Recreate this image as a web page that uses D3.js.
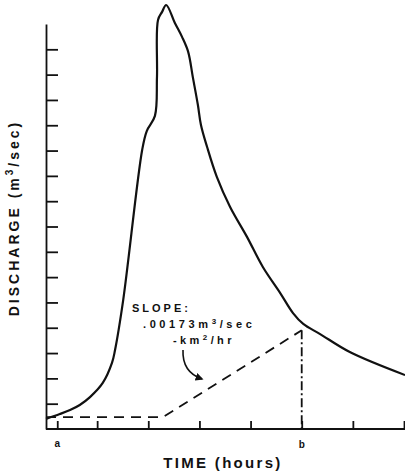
<!DOCTYPE html>
<html>
<head>
<meta charset="utf-8">
<script src="https://cdn.jsdelivr.net/npm/d3@7"></script>
<style>
	body { margin: 0; background: #fff; }
	svg { display: block; }
	text { font-family: "Liberation Sans", Arial, sans-serif; font-weight: bold; fill: #111; }
</style>
</head>
<body>
<svg id="chart" width="405" height="474"></svg>
<script>
// hydrograph (time in tick units, discharge in tick units)
const hydroT = [0, 0.27, 0.47, 0.66, 0.86, 1.11, 1.29, 1.35, 1.51, 1.88, 1.97, 2.13, 2.17, 2.19, 2.27, 2.35,
	2.52, 2.66, 2.78, 2.87, 2.97, 3.03, 3.15, 3.34, 3.60, 3.93, 4.24, 4.58, 4.83, 5.03, 5.36, 5.94, 7.02];
const hydroQ = [0.40, 0.59, 0.75, 0.95, 1.26, 1.82, 2.61, 3.12, 5.10, 11.02, 11.77, 12.37, 13.91, 16.16, 16.48, 16.75,
	16.04, 15.49, 14.90, 13.91, 12.80, 12.01, 11.14, 9.96, 8.77, 7.59, 6.40, 5.37, 4.58, 4.15, 3.75, 3.04, 2.13];

// baseflow separation line
const baseT = [0, 2.29, 5.0];
const baseQ = [0.47, 0.47, 3.9];

const xTicks = [1, 2, 3, 4, 5, 6, 7];
const yTicks = [1, 2, 3, 4, 5, 6, 7, 8, 9, 10, 11, 12, 13, 14, 15];
const pointA = 0.22, pointB = 5.0;

// text pieces: [plain, superscript, plain]
const yTitle = ["DISCHARGE (m", "3", "/sec)"];
const slopeLines = [["SLOPE:", "", ""], [".00173m", "3", "/sec"], ["-km", "2", "/hr"]];

const svg = d3.select("#chart");
const x = d3.scaleLinear().domain([0, 7]).range([46, 404]);
const y = d3.scaleLinear().domain([0, 16]).range([429, 24]);

function superText(sel, parts, size, sup) {
	sel.append("tspan").text(parts[0]);
	if (parts[1]) {
		sel.append("tspan").attr("dy", -size * 0.4).style("font-size", sup + "px").text(parts[1]);
		sel.append("tspan").attr("dy", size * 0.4).text(parts[2]);
	}
}

// axes
svg.append("g")
	.attr("transform", "translate(46,0)")
	.call(d3.axisRight(y).tickValues(yTicks).tickSize(12).tickSizeOuter(0).tickFormat(""))
	.call(g => g.selectAll("path, line").attr("stroke", "#111").attr("stroke-width", 1.8));

svg.append("g")
	.attr("transform", "translate(0,429)")
	.call(d3.axisTop(x).tickValues([pointA].concat(xTicks)).tickSize(8).tickSizeOuter(0).tickFormat(""))
	.call(g => g.select(".domain").attr("d", "M46,0H405"))
	.call(g => g.selectAll("path, line").attr("stroke", "#111").attr("stroke-width", 1.8));

// hydrograph
const line = d3.line()
	.x(d => x(d[0]))
	.y(d => y(d[1]))
	.curve(d3.curveCatmullRom.alpha(0.5));

svg.append("path")
	.datum(d3.zip(hydroT, hydroQ))
	.attr("d", line)
	.attr("fill", "none")
	.attr("stroke", "#111")
	.attr("stroke-width", 2.2)
	.attr("stroke-linejoin", "round");

svg.append("path")
	.datum(d3.zip(baseT, baseQ))
	.attr("d", d3.line().x(d => x(d[0])).y(d => y(d[1])))
	.attr("fill", "none")
	.attr("stroke", "#111")
	.attr("stroke-width", 1.8)
	.attr("stroke-dasharray", "10,7");

// dash-dot drop line at b
svg.append("line")
	.attr("x1", x(pointB)).attr("x2", x(pointB))
	.attr("y1", y(baseQ[2])).attr("y2", y(0))
	.attr("stroke", "#111")
	.attr("stroke-width", 1.8)
	.attr("stroke-dasharray", "9,3,2,3");

// labels a, b
svg.append("text").attr("x", x(pointA)).attr("y", 447).attr("text-anchor", "middle")
	.style("font-size", "10px").text("a");
svg.append("text").attr("x", x(pointB)).attr("y", 448).attr("text-anchor", "middle")
	.style("font-size", "10px").text("b");

// axis titles
svg.append("text")
	.attr("x", 223).attr("y", 468)
	.attr("text-anchor", "middle")
	.style("font-size", "15px")
	.style("letter-spacing", "2.3px")
	.text("TIME (hours)");

svg.append("text")
	.attr("transform", "translate(19,218) rotate(-90)")
	.attr("text-anchor", "middle")
	.style("font-size", "14px")
	.style("letter-spacing", "3px")
	.call(superText, yTitle, 14, 10);

// slope annotation
const note = [[132, 312, "3px"], [143, 328, "3.6px"], [173, 344, "3.4px"]];
note.forEach((n, i) => {
	svg.append("text")
		.attr("x", n[0]).attr("y", n[1])
		.style("font-size", "11px")
		.style("letter-spacing", n[2])
		.call(superText, slopeLines[i], 11, 8);
});

// arrow
svg.append("defs").append("marker")
	.attr("id", "head")
	.attr("viewBox", "0 0 10 10")
	.attr("refX", 8).attr("refY", 5)
	.attr("markerWidth", 5).attr("markerHeight", 5)
	.attr("orient", "auto")
	.append("path").attr("d", "M0,0L10,5L0,10z").attr("fill", "#111");

svg.append("path")
	.attr("d", "M183,350Q182,372 202,379")
	.attr("fill", "none")
	.attr("stroke", "#111")
	.attr("stroke-width", 1.6)
	.attr("marker-end", "url(#head)");
</script>
</body>
</html>
